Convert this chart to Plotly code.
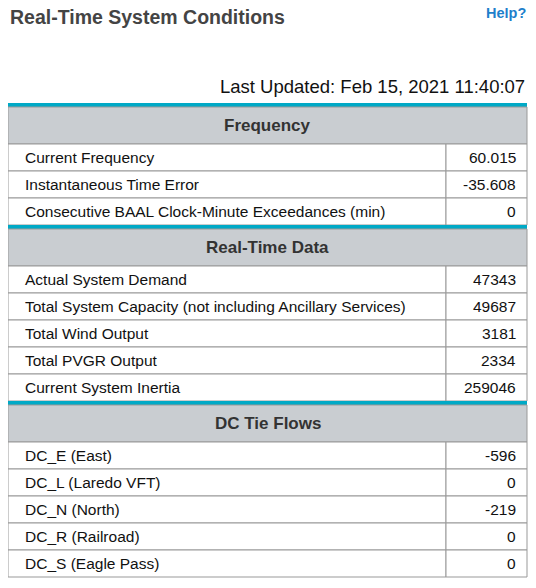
import plotly.graph_objs as go

# data
sections = ["Frequency", "Real-Time Data", "DC Tie Flows"]
freq_labels = ["Current Frequency", "Instantaneous Time Error",
               "Consecutive BAAL Clock-Minute Exceedances (min)"]
freq_values = ["60.015", "-35.608", "0"]
rt_labels = ["Actual System Demand", "Total System Capacity (not including Ancillary Services)",
             "Total Wind Output", "Total PVGR Output", "Current System Inertia"]
rt_values = ["47343", "49687", "3181", "2334", "259046"]
dc_labels = ["DC_E (East)", "DC_L (Laredo VFT)", "DC_N (North)", "DC_R (Railroad)", "DC_S (Eagle Pass)"]
dc_values = ["-596", "0", "-219", "0", "0"]
rows = [(freq_labels, freq_values), (rt_labels, rt_values), (dc_labels, dc_values)]

# page body has an 8px margin, so the figure is shrunk and the axes offset by it
W, H, PAD = 536, 588, 8
x0, x1, xdiv = 8, 527, 446
teal_h, head_h, row_h = 4, 37, 27
FONT = "Liberation Sans, Arial, sans-serif"

shapes, ann = [], []
y = 103
for name, (labels, values) in zip(sections, rows):
    shapes.append(dict(type="rect", x0=x0, x1=x1, y0=y, y1=y + teal_h,
                       fillcolor="#00A9C6", line_width=0))
    y += teal_h
    shapes.append(dict(type="rect", x0=x0, x1=x1, y0=y, y1=y + head_h,
                       fillcolor="#C9CDD1", line=dict(color="#999999", width=1)))
    ann.append(dict(x=(x0 + x1) / 2, y=y + head_h / 2, text="<b>" + name + "</b>",
                    showarrow=False, font=dict(size=17, color="#333333", family=FONT)))
    y += head_h
    for lab, val in zip(labels, values):
        shapes.append(dict(type="rect", x0=x0, x1=xdiv, y0=y, y1=y + row_h,
                           fillcolor="white", line=dict(color="#999999", width=1)))
        shapes.append(dict(type="rect", x0=xdiv, x1=x1, y0=y, y1=y + row_h,
                           fillcolor="white", line=dict(color="#999999", width=1)))
        ann.append(dict(x=x0 + 15, y=y + row_h / 2, text=lab, xanchor="left",
                        showarrow=False, font=dict(size=15.5, color="#111111", family=FONT)))
        ann.append(dict(x=x1 - 9, y=y + row_h / 2, text=val, xanchor="right",
                        showarrow=False, font=dict(size=15.5, color="#111111", family=FONT)))
        y += row_h

ann.append(dict(x=8, y=17, text="<b>Real-Time System Conditions</b>", xanchor="left",
                showarrow=False, font=dict(size=19.5, color="#444444", family=FONT)))
ann.append(dict(x=528, y=13, text="<b>Help?</b>", xanchor="right",
                showarrow=False, font=dict(size=14.5, color="#1E7FCB", family=FONT)))
ann.append(dict(x=527, y=86, text="Last Updated: Feb 15, 2021 11:40:07", xanchor="right",
                showarrow=False, font=dict(size=18.5, color="#111111", family=FONT)))

fig = go.Figure()
fig.update_layout(width=W - 2 * PAD, height=H - 2 * PAD, margin=dict(l=0, r=0, t=0, b=0),
                  plot_bgcolor="white", paper_bgcolor="white",
                  shapes=shapes, annotations=ann, showlegend=False)
fig.update_xaxes(range=[PAD, W - PAD], visible=False, fixedrange=True)
fig.update_yaxes(range=[H - PAD, PAD], visible=False, fixedrange=True)
fig.write_html("out.html")
